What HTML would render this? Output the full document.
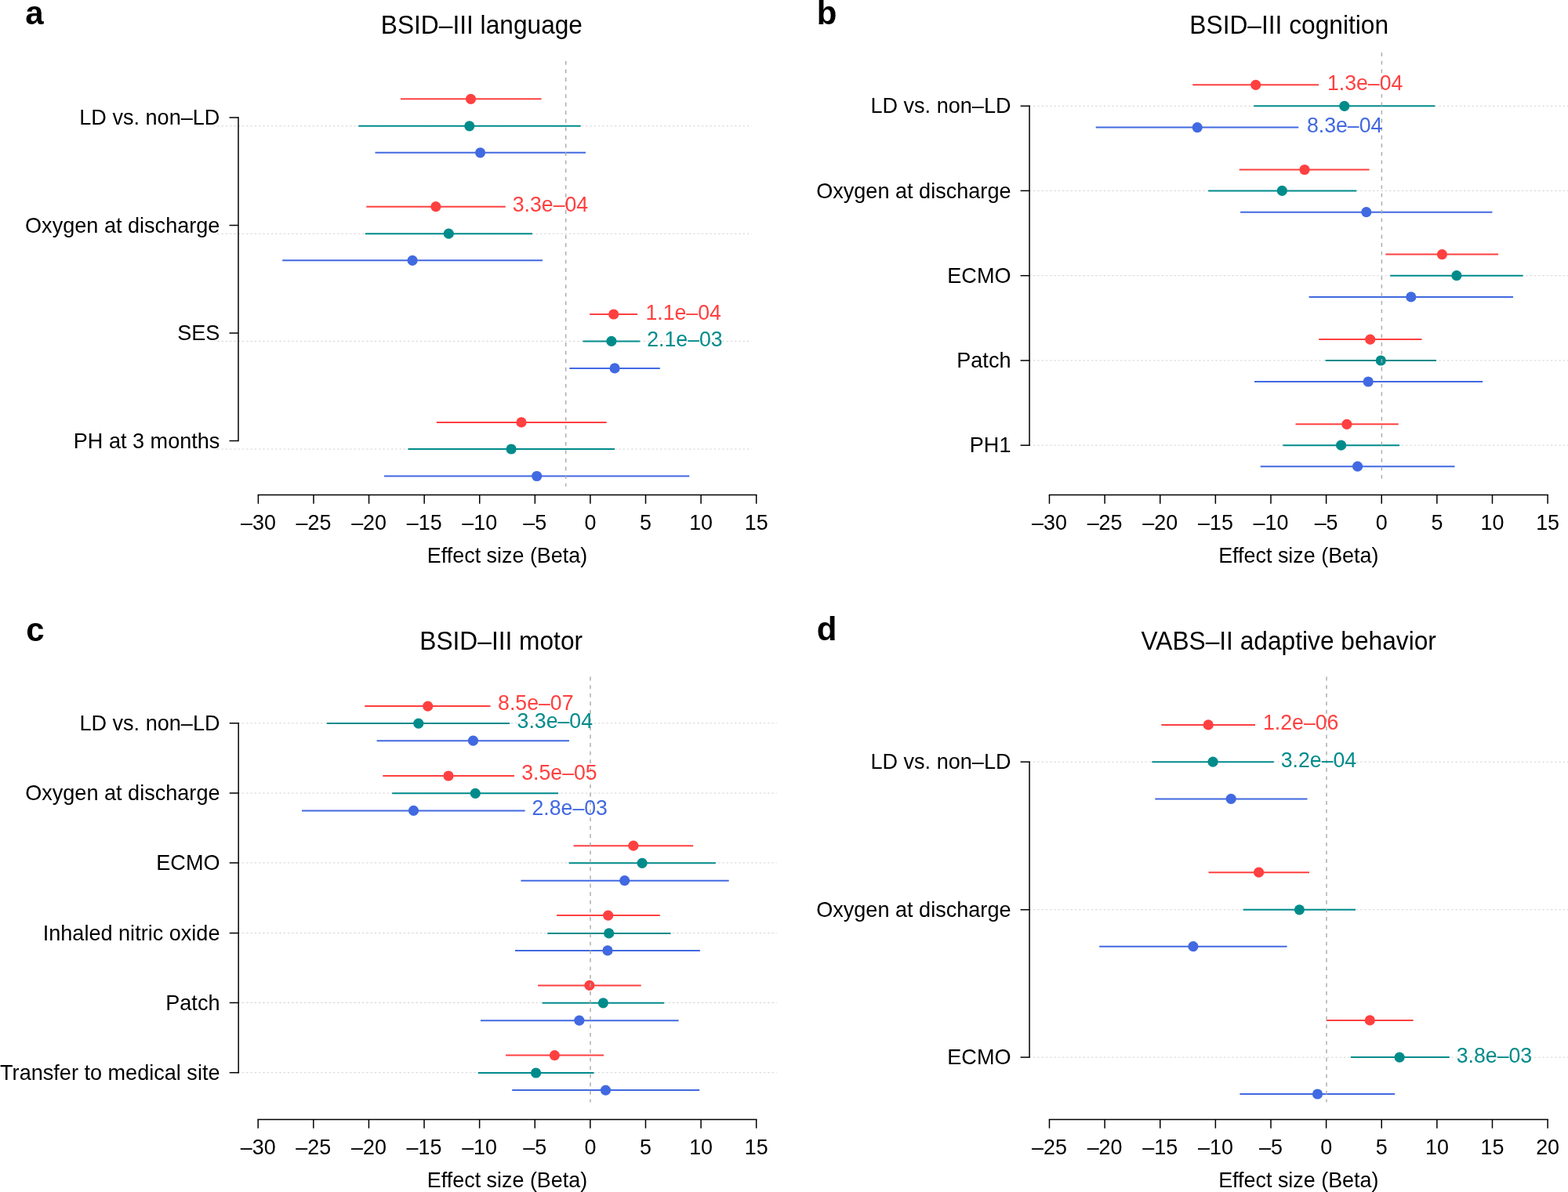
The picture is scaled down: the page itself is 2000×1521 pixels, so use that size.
<!DOCTYPE html>
<html><head><meta charset="utf-8"><title>Forest plots</title>
<style>html,body{margin:0;padding:0;background:#fff;}svg{display:block;}text{font-family:"Liberation Sans", Arial, Helvetica, sans-serif;}</style>
</head><body>
<svg width="2000" height="1521" viewBox="0 0 2000 1521">
<rect width="2000" height="1521" fill="#fff"/>
<line x1="273.2" y1="160.8" x2="958.5" y2="160.8" stroke="#d4d4d4" stroke-width="1" stroke-dasharray="2.5 2.779" stroke-dashoffset="1.3"/>
<line x1="273.2" y1="298.2" x2="958.5" y2="298.2" stroke="#d4d4d4" stroke-width="1" stroke-dasharray="2.5 2.779" stroke-dashoffset="1.3"/>
<line x1="273.2" y1="435.4" x2="958.5" y2="435.4" stroke="#d4d4d4" stroke-width="1" stroke-dasharray="2.5 2.779" stroke-dashoffset="1.3"/>
<line x1="273.2" y1="573.0" x2="958.5" y2="573.0" stroke="#d4d4d4" stroke-width="1" stroke-dasharray="2.5 2.779" stroke-dashoffset="1.3"/>
<line x1="511" y1="126.3" x2="690.6" y2="126.3" stroke="#FF4040" stroke-width="2.0"/>
<circle cx="600.5" cy="126.3" r="6.6" fill="#FF4040"/>
<line x1="457.2" y1="160.8" x2="740.7" y2="160.8" stroke="#008B8B" stroke-width="2.0"/>
<circle cx="598.8" cy="160.8" r="6.6" fill="#008B8B"/>
<line x1="478.5" y1="194.8" x2="747" y2="194.8" stroke="#4169E1" stroke-width="2.0"/>
<circle cx="612.6" cy="194.8" r="6.6" fill="#4169E1"/>
<line x1="467.3" y1="263.7" x2="644.8" y2="263.7" stroke="#FF4040" stroke-width="2.0"/>
<circle cx="555.9" cy="263.7" r="6.6" fill="#FF4040"/>
<line x1="465.9" y1="298.2" x2="679" y2="298.2" stroke="#008B8B" stroke-width="2.0"/>
<circle cx="572.3" cy="298.2" r="6.6" fill="#008B8B"/>
<line x1="360.2" y1="332.3" x2="692" y2="332.3" stroke="#4169E1" stroke-width="2.0"/>
<circle cx="526.1" cy="332.3" r="6.6" fill="#4169E1"/>
<line x1="752.2" y1="401" x2="813.1" y2="401" stroke="#FF4040" stroke-width="2.0"/>
<circle cx="782.7" cy="401" r="6.6" fill="#FF4040"/>
<line x1="743.5" y1="435.4" x2="816.3" y2="435.4" stroke="#008B8B" stroke-width="2.0"/>
<circle cx="779.9" cy="435.4" r="6.6" fill="#008B8B"/>
<line x1="726.3" y1="469.9" x2="841.8" y2="469.9" stroke="#4169E1" stroke-width="2.0"/>
<circle cx="784.1" cy="469.9" r="6.6" fill="#4169E1"/>
<line x1="556.9" y1="538.9" x2="773.6" y2="538.9" stroke="#FF4040" stroke-width="2.0"/>
<circle cx="665" cy="538.9" r="6.6" fill="#FF4040"/>
<line x1="520.5" y1="573" x2="784" y2="573" stroke="#008B8B" stroke-width="2.0"/>
<circle cx="652.1" cy="573" r="6.6" fill="#008B8B"/>
<line x1="490" y1="607.5" x2="879.3" y2="607.5" stroke="#4169E1" stroke-width="2.0"/>
<circle cx="684.7" cy="607.5" r="6.6" fill="#4169E1"/>
<line x1="721.7" y1="77.9" x2="721.7" y2="620.8" stroke="#a9a9a9" stroke-width="1.4" stroke-dasharray="4.9 5.665"/>
<text transform="translate(653.7 270.0) scale(1 1.04)" font-size="26.7" fill="#FF4040">3.3e–04</text>
<text transform="translate(823.4 408.1) scale(1 1.04)" font-size="26.7" fill="#FF4040">1.1e–04</text>
<text transform="translate(825.2 441.6) scale(1 1.04)" font-size="26.7" fill="#008B8B">2.1e–03</text>
<line x1="304" y1="150" x2="304" y2="562.5" stroke="#000" stroke-width="1.5" stroke-linecap="square"/>
<line x1="292.5" y1="150" x2="304" y2="150" stroke="#000" stroke-width="1.5"/>
<text transform="translate(280.4 159.1) scale(1 1.04)" font-size="27.1" text-anchor="end">LD vs. non–LD</text>
<line x1="292.5" y1="287.5" x2="304" y2="287.5" stroke="#000" stroke-width="1.5"/>
<text transform="translate(280.4 296.6) scale(1 1.04)" font-size="27.1" text-anchor="end">Oxygen at discharge</text>
<line x1="292.5" y1="425" x2="304" y2="425" stroke="#000" stroke-width="1.5"/>
<text transform="translate(280.4 434.1) scale(1 1.04)" font-size="27.1" text-anchor="end">SES</text>
<line x1="292.5" y1="562.5" x2="304" y2="562.5" stroke="#000" stroke-width="1.5"/>
<text transform="translate(280.4 571.6) scale(1 1.04)" font-size="27.1" text-anchor="end">PH at 3 months</text>
<line x1="329.4" y1="631.5" x2="964.7" y2="631.5" stroke="#000" stroke-width="1.5" stroke-linecap="square"/>
<line x1="329.4" y1="631.5" x2="329.4" y2="642.8" stroke="#000" stroke-width="1.5"/>
<text transform="translate(329.4 675.7) scale(1 1.04)" font-size="26.9" text-anchor="middle">–30</text>
<line x1="399.9888888888889" y1="631.5" x2="399.9888888888889" y2="642.8" stroke="#000" stroke-width="1.5"/>
<text transform="translate(400.0 675.7) scale(1 1.04)" font-size="26.9" text-anchor="middle">–25</text>
<line x1="470.5777777777778" y1="631.5" x2="470.5777777777778" y2="642.8" stroke="#000" stroke-width="1.5"/>
<text transform="translate(470.6 675.7) scale(1 1.04)" font-size="26.9" text-anchor="middle">–20</text>
<line x1="541.1666666666666" y1="631.5" x2="541.1666666666666" y2="642.8" stroke="#000" stroke-width="1.5"/>
<text transform="translate(541.2 675.7) scale(1 1.04)" font-size="26.9" text-anchor="middle">–15</text>
<line x1="611.7555555555556" y1="631.5" x2="611.7555555555556" y2="642.8" stroke="#000" stroke-width="1.5"/>
<text transform="translate(611.8 675.7) scale(1 1.04)" font-size="26.9" text-anchor="middle">–10</text>
<line x1="682.3444444444444" y1="631.5" x2="682.3444444444444" y2="642.8" stroke="#000" stroke-width="1.5"/>
<text transform="translate(682.3 675.7) scale(1 1.04)" font-size="26.9" text-anchor="middle">–5</text>
<line x1="752.9333333333334" y1="631.5" x2="752.9333333333334" y2="642.8" stroke="#000" stroke-width="1.5"/>
<text transform="translate(752.9 675.7) scale(1 1.04)" font-size="26.9" text-anchor="middle">0</text>
<line x1="823.5222222222222" y1="631.5" x2="823.5222222222222" y2="642.8" stroke="#000" stroke-width="1.5"/>
<text transform="translate(823.5 675.7) scale(1 1.04)" font-size="26.9" text-anchor="middle">5</text>
<line x1="894.1111111111112" y1="631.5" x2="894.1111111111112" y2="642.8" stroke="#000" stroke-width="1.5"/>
<text transform="translate(894.1 675.7) scale(1 1.04)" font-size="26.9" text-anchor="middle">10</text>
<line x1="964.7" y1="631.5" x2="964.7" y2="642.8" stroke="#000" stroke-width="1.5"/>
<text transform="translate(964.7 675.7) scale(1 1.04)" font-size="26.9" text-anchor="middle">15</text>
<text transform="translate(647.0 717.6) scale(1 1.04)" font-size="26.9" text-anchor="middle">Effect size (Beta)</text>
<text transform="translate(614.4 43.0) scale(1 1.04)" font-size="31.7" text-anchor="middle">BSID–III language</text>
<text transform="translate(32.3 30.5) scale(1 1.0)" font-size="42" font-weight="bold">a</text>
<line x1="1313.1" y1="135.3" x2="2000" y2="135.3" stroke="#d4d4d4" stroke-width="1" stroke-dasharray="2.5 2.779" stroke-dashoffset="0.38"/>
<line x1="1313.1" y1="243.4" x2="2000" y2="243.4" stroke="#d4d4d4" stroke-width="1" stroke-dasharray="2.5 2.779" stroke-dashoffset="0.38"/>
<line x1="1313.1" y1="351.7" x2="2000" y2="351.7" stroke="#d4d4d4" stroke-width="1" stroke-dasharray="2.5 2.779" stroke-dashoffset="0.38"/>
<line x1="1313.1" y1="460" x2="2000" y2="460" stroke="#d4d4d4" stroke-width="1" stroke-dasharray="2.5 2.779" stroke-dashoffset="0.38"/>
<line x1="1313.1" y1="568.2" x2="2000" y2="568.2" stroke="#d4d4d4" stroke-width="1" stroke-dasharray="2.5 2.779" stroke-dashoffset="0.38"/>
<line x1="1521.2" y1="108.3" x2="1682.2" y2="108.3" stroke="#FF4040" stroke-width="2.0"/>
<circle cx="1601.7" cy="108.3" r="6.6" fill="#FF4040"/>
<line x1="1599.3" y1="135.3" x2="1830.3" y2="135.3" stroke="#008B8B" stroke-width="2.0"/>
<circle cx="1714.8" cy="135.3" r="6.6" fill="#008B8B"/>
<line x1="1397.7" y1="162.6" x2="1656.3" y2="162.6" stroke="#4169E1" stroke-width="2.0"/>
<circle cx="1527.2" cy="162.6" r="6.6" fill="#4169E1"/>
<line x1="1580.7" y1="216.5" x2="1746.6" y2="216.5" stroke="#FF4040" stroke-width="2.0"/>
<circle cx="1664" cy="216.5" r="6.6" fill="#FF4040"/>
<line x1="1541.2" y1="243.4" x2="1730.2" y2="243.4" stroke="#008B8B" stroke-width="2.0"/>
<circle cx="1635.3" cy="243.4" r="6.6" fill="#008B8B"/>
<line x1="1582.1" y1="270.7" x2="1903.4" y2="270.7" stroke="#4169E1" stroke-width="2.0"/>
<circle cx="1742.8" cy="270.7" r="6.6" fill="#4169E1"/>
<line x1="1767.3" y1="324.6" x2="1911.1" y2="324.6" stroke="#FF4040" stroke-width="2.0"/>
<circle cx="1839.4" cy="324.6" r="6.6" fill="#FF4040"/>
<line x1="1773.2" y1="351.7" x2="1942.6" y2="351.7" stroke="#008B8B" stroke-width="2.0"/>
<circle cx="1857.9" cy="351.7" r="6.6" fill="#008B8B"/>
<line x1="1669.6" y1="378.9" x2="1930" y2="378.9" stroke="#4169E1" stroke-width="2.0"/>
<circle cx="1799.8" cy="378.9" r="6.6" fill="#4169E1"/>
<line x1="1682.2" y1="433.1" x2="1813.5" y2="433.1" stroke="#FF4040" stroke-width="2.0"/>
<circle cx="1747.7" cy="433.1" r="6.6" fill="#FF4040"/>
<line x1="1690.6" y1="460" x2="1832" y2="460" stroke="#008B8B" stroke-width="2.0"/>
<circle cx="1761.3" cy="460" r="6.6" fill="#008B8B"/>
<line x1="1600" y1="487" x2="1891.2" y2="487" stroke="#4169E1" stroke-width="2.0"/>
<circle cx="1745.2" cy="487" r="6.6" fill="#4169E1"/>
<line x1="1652.5" y1="541.3" x2="1783.7" y2="541.3" stroke="#FF4040" stroke-width="2.0"/>
<circle cx="1717.9" cy="541.3" r="6.6" fill="#FF4040"/>
<line x1="1636.4" y1="568.2" x2="1785.1" y2="568.2" stroke="#008B8B" stroke-width="2.0"/>
<circle cx="1710.6" cy="568.2" r="6.6" fill="#008B8B"/>
<line x1="1607.7" y1="595.2" x2="1855.5" y2="595.2" stroke="#4169E1" stroke-width="2.0"/>
<circle cx="1731.6" cy="595.2" r="6.6" fill="#4169E1"/>
<line x1="1762.4" y1="67.1" x2="1762.4" y2="610.7" stroke="#a9a9a9" stroke-width="1.4" stroke-dasharray="4.9 5.665"/>
<text transform="translate(1692.9 115.0) scale(1 1.04)" font-size="26.7" fill="#FF4040">1.3e–04</text>
<text transform="translate(1666.9 168.8) scale(1 1.04)" font-size="26.7" fill="#4169E1">8.3e–04</text>
<line x1="1313.1" y1="135.3" x2="1313.1" y2="568.2" stroke="#000" stroke-width="1.5" stroke-linecap="square"/>
<line x1="1301.6" y1="135.3" x2="1313.1" y2="135.3" stroke="#000" stroke-width="1.5"/>
<text transform="translate(1289.5 144.4) scale(1 1.04)" font-size="27.1" text-anchor="end">LD vs. non–LD</text>
<line x1="1301.6" y1="243.4" x2="1313.1" y2="243.4" stroke="#000" stroke-width="1.5"/>
<text transform="translate(1289.5 252.5) scale(1 1.04)" font-size="27.1" text-anchor="end">Oxygen at discharge</text>
<line x1="1301.6" y1="351.7" x2="1313.1" y2="351.7" stroke="#000" stroke-width="1.5"/>
<text transform="translate(1289.5 360.8) scale(1 1.04)" font-size="27.1" text-anchor="end">ECMO</text>
<line x1="1301.6" y1="460" x2="1313.1" y2="460" stroke="#000" stroke-width="1.5"/>
<text transform="translate(1289.5 469.1) scale(1 1.04)" font-size="27.1" text-anchor="end">Patch</text>
<line x1="1301.6" y1="568.2" x2="1313.1" y2="568.2" stroke="#000" stroke-width="1.5"/>
<text transform="translate(1289.5 577.3) scale(1 1.04)" font-size="27.1" text-anchor="end">PH1</text>
<line x1="1338.5" y1="631.5" x2="1974.1" y2="631.5" stroke="#000" stroke-width="1.5" stroke-linecap="square"/>
<line x1="1338.5" y1="631.5" x2="1338.5" y2="642.8" stroke="#000" stroke-width="1.5"/>
<text transform="translate(1338.5 675.7) scale(1 1.04)" font-size="26.9" text-anchor="middle">–30</text>
<line x1="1409.1222222222223" y1="631.5" x2="1409.1222222222223" y2="642.8" stroke="#000" stroke-width="1.5"/>
<text transform="translate(1409.1 675.7) scale(1 1.04)" font-size="26.9" text-anchor="middle">–25</text>
<line x1="1479.7444444444445" y1="631.5" x2="1479.7444444444445" y2="642.8" stroke="#000" stroke-width="1.5"/>
<text transform="translate(1479.7 675.7) scale(1 1.04)" font-size="26.9" text-anchor="middle">–20</text>
<line x1="1550.3666666666666" y1="631.5" x2="1550.3666666666666" y2="642.8" stroke="#000" stroke-width="1.5"/>
<text transform="translate(1550.4 675.7) scale(1 1.04)" font-size="26.9" text-anchor="middle">–15</text>
<line x1="1620.9888888888888" y1="631.5" x2="1620.9888888888888" y2="642.8" stroke="#000" stroke-width="1.5"/>
<text transform="translate(1621.0 675.7) scale(1 1.04)" font-size="26.9" text-anchor="middle">–10</text>
<line x1="1691.611111111111" y1="631.5" x2="1691.611111111111" y2="642.8" stroke="#000" stroke-width="1.5"/>
<text transform="translate(1691.6 675.7) scale(1 1.04)" font-size="26.9" text-anchor="middle">–5</text>
<line x1="1762.2333333333333" y1="631.5" x2="1762.2333333333333" y2="642.8" stroke="#000" stroke-width="1.5"/>
<text transform="translate(1762.2 675.7) scale(1 1.04)" font-size="26.9" text-anchor="middle">0</text>
<line x1="1832.8555555555554" y1="631.5" x2="1832.8555555555554" y2="642.8" stroke="#000" stroke-width="1.5"/>
<text transform="translate(1832.9 675.7) scale(1 1.04)" font-size="26.9" text-anchor="middle">5</text>
<line x1="1903.4777777777776" y1="631.5" x2="1903.4777777777776" y2="642.8" stroke="#000" stroke-width="1.5"/>
<text transform="translate(1903.5 675.7) scale(1 1.04)" font-size="26.9" text-anchor="middle">10</text>
<line x1="1974.1" y1="631.5" x2="1974.1" y2="642.8" stroke="#000" stroke-width="1.5"/>
<text transform="translate(1974.1 675.7) scale(1 1.04)" font-size="26.9" text-anchor="middle">15</text>
<text transform="translate(1656.3 717.6) scale(1 1.04)" font-size="26.9" text-anchor="middle">Effect size (Beta)</text>
<text transform="translate(1644.2 43.0) scale(1 1.04)" font-size="31.7" text-anchor="middle">BSID–III cognition</text>
<text transform="translate(1041.8 30.5) scale(1 1.0)" font-size="42" font-weight="bold">b</text>
<line x1="304.2" y1="922.8" x2="990.75" y2="922.8" stroke="#d4d4d4" stroke-width="1" stroke-dasharray="2.5 2.779" stroke-dashoffset="0.7"/>
<line x1="304.2" y1="1012" x2="990.75" y2="1012" stroke="#d4d4d4" stroke-width="1" stroke-dasharray="2.5 2.779" stroke-dashoffset="0.7"/>
<line x1="304.2" y1="1101" x2="990.75" y2="1101" stroke="#d4d4d4" stroke-width="1" stroke-dasharray="2.5 2.779" stroke-dashoffset="0.7"/>
<line x1="304.2" y1="1190.6" x2="990.75" y2="1190.6" stroke="#d4d4d4" stroke-width="1" stroke-dasharray="2.5 2.779" stroke-dashoffset="0.7"/>
<line x1="304.2" y1="1279.5" x2="990.75" y2="1279.5" stroke="#d4d4d4" stroke-width="1" stroke-dasharray="2.5 2.779" stroke-dashoffset="0.7"/>
<line x1="304.2" y1="1368.7" x2="990.75" y2="1368.7" stroke="#d4d4d4" stroke-width="1" stroke-dasharray="2.5 2.779" stroke-dashoffset="0.7"/>
<line x1="465.2" y1="901.05" x2="625.5" y2="901.05" stroke="#FF4040" stroke-width="2.0"/>
<circle cx="545.7" cy="901.05" r="6.6" fill="#FF4040"/>
<line x1="416.9" y1="923.1" x2="650" y2="923.1" stroke="#008B8B" stroke-width="2.0"/>
<circle cx="533.8" cy="923.1" r="6.6" fill="#008B8B"/>
<line x1="480.6" y1="945.2" x2="726" y2="945.2" stroke="#4169E1" stroke-width="2.0"/>
<circle cx="603.5" cy="945.2" r="6.6" fill="#4169E1"/>
<line x1="488.3" y1="990.0" x2="656" y2="990.0" stroke="#FF4040" stroke-width="2.0"/>
<circle cx="572" cy="990.0" r="6.6" fill="#FF4040"/>
<line x1="500.2" y1="1012.3" x2="712" y2="1012.3" stroke="#008B8B" stroke-width="2.0"/>
<circle cx="606.3" cy="1012.3" r="6.6" fill="#008B8B"/>
<line x1="385" y1="1034.4" x2="669.6" y2="1034.4" stroke="#4169E1" stroke-width="2.0"/>
<circle cx="527.5" cy="1034.4" r="6.6" fill="#4169E1"/>
<line x1="731.6" y1="1079.2" x2="884.2" y2="1079.2" stroke="#FF4040" stroke-width="2.0"/>
<circle cx="807.9" cy="1079.2" r="6.6" fill="#FF4040"/>
<line x1="725.6" y1="1101.3" x2="912.9" y2="1101.3" stroke="#008B8B" stroke-width="2.0"/>
<circle cx="819.1" cy="1101.3" r="6.6" fill="#008B8B"/>
<line x1="664.4" y1="1123.7" x2="929.7" y2="1123.7" stroke="#4169E1" stroke-width="2.0"/>
<circle cx="796.7" cy="1123.7" r="6.6" fill="#4169E1"/>
<line x1="710.2" y1="1168.1" x2="841.8" y2="1168.1" stroke="#FF4040" stroke-width="2.0"/>
<circle cx="775.7" cy="1168.1" r="6.6" fill="#FF4040"/>
<line x1="698.3" y1="1190.9" x2="855.5" y2="1190.9" stroke="#008B8B" stroke-width="2.0"/>
<circle cx="776.7" cy="1190.9" r="6.6" fill="#008B8B"/>
<line x1="657" y1="1212.9" x2="892.9" y2="1212.9" stroke="#4169E1" stroke-width="2.0"/>
<circle cx="775" cy="1212.9" r="6.6" fill="#4169E1"/>
<line x1="686.1" y1="1257.4" x2="817.7" y2="1257.4" stroke="#FF4040" stroke-width="2.0"/>
<circle cx="751.9" cy="1257.4" r="6.6" fill="#FF4040"/>
<line x1="691.7" y1="1279.8" x2="847.1" y2="1279.8" stroke="#008B8B" stroke-width="2.0"/>
<circle cx="769.4" cy="1279.8" r="6.6" fill="#008B8B"/>
<line x1="612.9" y1="1302.2" x2="865.6" y2="1302.2" stroke="#4169E1" stroke-width="2.0"/>
<circle cx="738.9" cy="1302.2" r="6.6" fill="#4169E1"/>
<line x1="645.1" y1="1346.6" x2="770.1" y2="1346.6" stroke="#FF4040" stroke-width="2.0"/>
<circle cx="707.4" cy="1346.6" r="6.6" fill="#FF4040"/>
<line x1="609.8" y1="1369.0" x2="757.5" y2="1369.0" stroke="#008B8B" stroke-width="2.0"/>
<circle cx="683.6" cy="1369.0" r="6.6" fill="#008B8B"/>
<line x1="653.2" y1="1391.1" x2="892.2" y2="1391.1" stroke="#4169E1" stroke-width="2.0"/>
<circle cx="772.5" cy="1391.1" r="6.6" fill="#4169E1"/>
<line x1="753.0" y1="863.6" x2="753.0" y2="1406.5" stroke="#a9a9a9" stroke-width="1.4" stroke-dasharray="4.9 5.665"/>
<text transform="translate(635.1 906.0) scale(1 1.04)" font-size="26.7" fill="#FF4040">8.5e–07</text>
<text transform="translate(659.6 928.8) scale(1 1.04)" font-size="26.7" fill="#008B8B">3.3e–04</text>
<text transform="translate(665.2 994.6) scale(1 1.04)" font-size="26.7" fill="#FF4040">3.5e–05</text>
<text transform="translate(678.5 1039.7) scale(1 1.04)" font-size="26.7" fill="#4169E1">2.8e–03</text>
<line x1="304.2" y1="922.8" x2="304.2" y2="1368.7" stroke="#000" stroke-width="1.5" stroke-linecap="square"/>
<line x1="292.7" y1="922.8" x2="304.2" y2="922.8" stroke="#000" stroke-width="1.5"/>
<text transform="translate(280.5 931.9) scale(1 1.04)" font-size="27.1" text-anchor="end">LD vs. non–LD</text>
<line x1="292.7" y1="1012" x2="304.2" y2="1012" stroke="#000" stroke-width="1.5"/>
<text transform="translate(280.5 1021.1) scale(1 1.04)" font-size="27.1" text-anchor="end">Oxygen at discharge</text>
<line x1="292.7" y1="1101" x2="304.2" y2="1101" stroke="#000" stroke-width="1.5"/>
<text transform="translate(280.5 1110.1) scale(1 1.04)" font-size="27.1" text-anchor="end">ECMO</text>
<line x1="292.7" y1="1190.6" x2="304.2" y2="1190.6" stroke="#000" stroke-width="1.5"/>
<text transform="translate(280.5 1199.7) scale(1 1.04)" font-size="27.1" text-anchor="end">Inhaled nitric oxide</text>
<line x1="292.7" y1="1279.5" x2="304.2" y2="1279.5" stroke="#000" stroke-width="1.5"/>
<text transform="translate(280.5 1288.6) scale(1 1.04)" font-size="27.1" text-anchor="end">Patch</text>
<line x1="292.7" y1="1368.7" x2="304.2" y2="1368.7" stroke="#000" stroke-width="1.5"/>
<text transform="translate(280.5 1377.8) scale(1 1.04)" font-size="27.1" text-anchor="end">Transfer to medical site</text>
<line x1="329.2" y1="1428.4" x2="964.7" y2="1428.4" stroke="#000" stroke-width="1.5" stroke-linecap="square"/>
<line x1="329.2" y1="1428.4" x2="329.2" y2="1439.7" stroke="#000" stroke-width="1.5"/>
<text transform="translate(329.2 1472.6) scale(1 1.04)" font-size="26.9" text-anchor="middle">–30</text>
<line x1="399.81111111111113" y1="1428.4" x2="399.81111111111113" y2="1439.7" stroke="#000" stroke-width="1.5"/>
<text transform="translate(399.8 1472.6) scale(1 1.04)" font-size="26.9" text-anchor="middle">–25</text>
<line x1="470.4222222222222" y1="1428.4" x2="470.4222222222222" y2="1439.7" stroke="#000" stroke-width="1.5"/>
<text transform="translate(470.4 1472.6) scale(1 1.04)" font-size="26.9" text-anchor="middle">–20</text>
<line x1="541.0333333333333" y1="1428.4" x2="541.0333333333333" y2="1439.7" stroke="#000" stroke-width="1.5"/>
<text transform="translate(541.0 1472.6) scale(1 1.04)" font-size="26.9" text-anchor="middle">–15</text>
<line x1="611.6444444444444" y1="1428.4" x2="611.6444444444444" y2="1439.7" stroke="#000" stroke-width="1.5"/>
<text transform="translate(611.6 1472.6) scale(1 1.04)" font-size="26.9" text-anchor="middle">–10</text>
<line x1="682.2555555555555" y1="1428.4" x2="682.2555555555555" y2="1439.7" stroke="#000" stroke-width="1.5"/>
<text transform="translate(682.3 1472.6) scale(1 1.04)" font-size="26.9" text-anchor="middle">–5</text>
<line x1="752.8666666666667" y1="1428.4" x2="752.8666666666667" y2="1439.7" stroke="#000" stroke-width="1.5"/>
<text transform="translate(752.9 1472.6) scale(1 1.04)" font-size="26.9" text-anchor="middle">0</text>
<line x1="823.4777777777778" y1="1428.4" x2="823.4777777777778" y2="1439.7" stroke="#000" stroke-width="1.5"/>
<text transform="translate(823.5 1472.6) scale(1 1.04)" font-size="26.9" text-anchor="middle">5</text>
<line x1="894.088888888889" y1="1428.4" x2="894.088888888889" y2="1439.7" stroke="#000" stroke-width="1.5"/>
<text transform="translate(894.1 1472.6) scale(1 1.04)" font-size="26.9" text-anchor="middle">10</text>
<line x1="964.7" y1="1428.4" x2="964.7" y2="1439.7" stroke="#000" stroke-width="1.5"/>
<text transform="translate(964.7 1472.6) scale(1 1.04)" font-size="26.9" text-anchor="middle">15</text>
<text transform="translate(647.0 1514.5) scale(1 1.04)" font-size="26.9" text-anchor="middle">Effect size (Beta)</text>
<text transform="translate(639.2 829.3) scale(1 1.04)" font-size="31.7" text-anchor="middle">BSID–III motor</text>
<text transform="translate(33.2 817.5) scale(1 1.0)" font-size="42" font-weight="bold">c</text>
<line x1="1313.1" y1="972.2" x2="2000" y2="972.2" stroke="#d4d4d4" stroke-width="1" stroke-dasharray="2.5 2.779" stroke-dashoffset="0.38"/>
<line x1="1313.1" y1="1160.8" x2="2000" y2="1160.8" stroke="#d4d4d4" stroke-width="1" stroke-dasharray="2.5 2.779" stroke-dashoffset="0.38"/>
<line x1="1313.1" y1="1349.1" x2="2000" y2="1349.1" stroke="#d4d4d4" stroke-width="1" stroke-dasharray="2.5 2.779" stroke-dashoffset="0.38"/>
<line x1="1481.3" y1="924.9" x2="1601" y2="924.9" stroke="#FF4040" stroke-width="2.0"/>
<circle cx="1541.2" cy="924.9" r="6.6" fill="#FF4040"/>
<line x1="1469.4" y1="972.2" x2="1624.8" y2="972.2" stroke="#008B8B" stroke-width="2.0"/>
<circle cx="1547.1" cy="972.2" r="6.6" fill="#008B8B"/>
<line x1="1473.3" y1="1019.4" x2="1667.5" y2="1019.4" stroke="#4169E1" stroke-width="2.0"/>
<circle cx="1570.2" cy="1019.4" r="6.6" fill="#4169E1"/>
<line x1="1541.5" y1="1113.2" x2="1670" y2="1113.2" stroke="#FF4040" stroke-width="2.0"/>
<circle cx="1605.6" cy="1113.2" r="6.6" fill="#FF4040"/>
<line x1="1585.6" y1="1160.8" x2="1729.1" y2="1160.8" stroke="#008B8B" stroke-width="2.0"/>
<circle cx="1657.4" cy="1160.8" r="6.6" fill="#008B8B"/>
<line x1="1402.2" y1="1207.7" x2="1641.6" y2="1207.7" stroke="#4169E1" stroke-width="2.0"/>
<circle cx="1521.9" cy="1207.7" r="6.6" fill="#4169E1"/>
<line x1="1692" y1="1301.9" x2="1802.6" y2="1301.9" stroke="#FF4040" stroke-width="2.0"/>
<circle cx="1747.3" cy="1301.9" r="6.6" fill="#FF4040"/>
<line x1="1722.8" y1="1349.1" x2="1848.8" y2="1349.1" stroke="#008B8B" stroke-width="2.0"/>
<circle cx="1785.1" cy="1349.1" r="6.6" fill="#008B8B"/>
<line x1="1581.4" y1="1396" x2="1779.2" y2="1396" stroke="#4169E1" stroke-width="2.0"/>
<circle cx="1680.5" cy="1396" r="6.6" fill="#4169E1"/>
<line x1="1692.0" y1="863.6" x2="1692.0" y2="1406.5" stroke="#a9a9a9" stroke-width="1.4" stroke-dasharray="4.9 5.665"/>
<text transform="translate(1611.0 931.2) scale(1 1.04)" font-size="26.7" fill="#FF4040">1.2e–06</text>
<text transform="translate(1633.7 978.8) scale(1 1.04)" font-size="26.7" fill="#008B8B">3.2e–04</text>
<text transform="translate(1857.7 1355.8) scale(1 1.04)" font-size="26.7" fill="#008B8B">3.8e–03</text>
<line x1="1313.1" y1="972.2" x2="1313.1" y2="1349.1" stroke="#000" stroke-width="1.5" stroke-linecap="square"/>
<line x1="1301.6" y1="972.2" x2="1313.1" y2="972.2" stroke="#000" stroke-width="1.5"/>
<text transform="translate(1289.5 981.3) scale(1 1.04)" font-size="27.1" text-anchor="end">LD vs. non–LD</text>
<line x1="1301.6" y1="1160.8" x2="1313.1" y2="1160.8" stroke="#000" stroke-width="1.5"/>
<text transform="translate(1289.5 1169.9) scale(1 1.04)" font-size="27.1" text-anchor="end">Oxygen at discharge</text>
<line x1="1301.6" y1="1349.1" x2="1313.1" y2="1349.1" stroke="#000" stroke-width="1.5"/>
<text transform="translate(1289.5 1358.2) scale(1 1.04)" font-size="27.1" text-anchor="end">ECMO</text>
<line x1="1338.5" y1="1428.4" x2="1974.1" y2="1428.4" stroke="#000" stroke-width="1.5" stroke-linecap="square"/>
<line x1="1338.5" y1="1428.4" x2="1338.5" y2="1439.7" stroke="#000" stroke-width="1.5"/>
<text transform="translate(1338.5 1472.6) scale(1 1.04)" font-size="26.9" text-anchor="middle">–25</text>
<line x1="1409.1222222222223" y1="1428.4" x2="1409.1222222222223" y2="1439.7" stroke="#000" stroke-width="1.5"/>
<text transform="translate(1409.1 1472.6) scale(1 1.04)" font-size="26.9" text-anchor="middle">–20</text>
<line x1="1479.7444444444445" y1="1428.4" x2="1479.7444444444445" y2="1439.7" stroke="#000" stroke-width="1.5"/>
<text transform="translate(1479.7 1472.6) scale(1 1.04)" font-size="26.9" text-anchor="middle">–15</text>
<line x1="1550.3666666666666" y1="1428.4" x2="1550.3666666666666" y2="1439.7" stroke="#000" stroke-width="1.5"/>
<text transform="translate(1550.4 1472.6) scale(1 1.04)" font-size="26.9" text-anchor="middle">–10</text>
<line x1="1620.9888888888888" y1="1428.4" x2="1620.9888888888888" y2="1439.7" stroke="#000" stroke-width="1.5"/>
<text transform="translate(1621.0 1472.6) scale(1 1.04)" font-size="26.9" text-anchor="middle">–5</text>
<line x1="1691.611111111111" y1="1428.4" x2="1691.611111111111" y2="1439.7" stroke="#000" stroke-width="1.5"/>
<text transform="translate(1691.6 1472.6) scale(1 1.04)" font-size="26.9" text-anchor="middle">0</text>
<line x1="1762.2333333333333" y1="1428.4" x2="1762.2333333333333" y2="1439.7" stroke="#000" stroke-width="1.5"/>
<text transform="translate(1762.2 1472.6) scale(1 1.04)" font-size="26.9" text-anchor="middle">5</text>
<line x1="1832.8555555555554" y1="1428.4" x2="1832.8555555555554" y2="1439.7" stroke="#000" stroke-width="1.5"/>
<text transform="translate(1832.9 1472.6) scale(1 1.04)" font-size="26.9" text-anchor="middle">10</text>
<line x1="1903.4777777777776" y1="1428.4" x2="1903.4777777777776" y2="1439.7" stroke="#000" stroke-width="1.5"/>
<text transform="translate(1903.5 1472.6) scale(1 1.04)" font-size="26.9" text-anchor="middle">15</text>
<line x1="1974.1" y1="1428.4" x2="1974.1" y2="1439.7" stroke="#000" stroke-width="1.5"/>
<text transform="translate(1974.1 1472.6) scale(1 1.04)" font-size="26.9" text-anchor="middle">20</text>
<text transform="translate(1656.3 1514.5) scale(1 1.04)" font-size="26.9" text-anchor="middle">Effect size (Beta)</text>
<text transform="translate(1643.7 828.8) scale(1 1.04)" font-size="31.7" text-anchor="middle">VABS–II adaptive behavior</text>
<text transform="translate(1041.8 817.0) scale(1 1.0)" font-size="42" font-weight="bold">d</text>
</svg>
</body></html>
